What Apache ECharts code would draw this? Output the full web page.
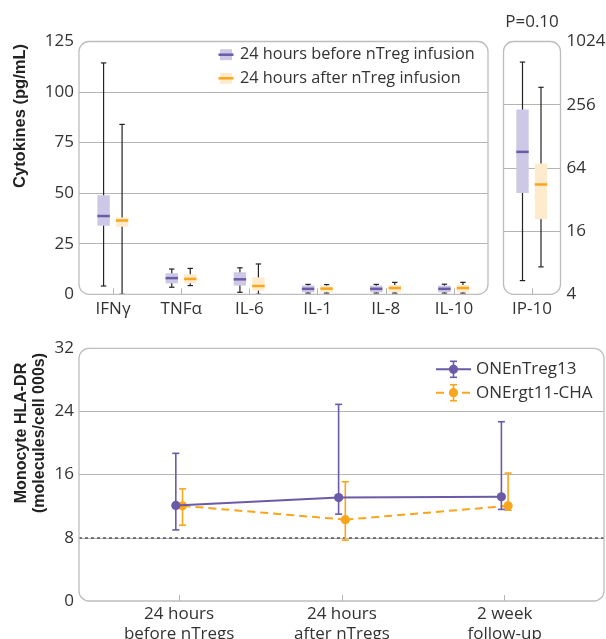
<!DOCTYPE html>
<html>
<head>
<meta charset="utf-8">
<script src="https://cdn.jsdelivr.net/npm/echarts@6/dist/echarts.min.js"></script>
<style>
  html, body { margin: 0; padding: 0; background: #fff; }
  #chart { width: 606px; height: 639px; }
</style>
</head>
<body>
<div id="chart"></div>
<script>
// ---- Cytokine panel data: [low whisker, Q1, median, Q3, high whisker] ----
const cytokines = ['IFNγ', 'TNFα', 'IL-6', 'IL-1', 'IL-8', 'IL-10'];
const before24h = [
  [4.1, 33.9, 38.7, 49.0, 114.4],
  [3.5, 5.4, 8.0, 10.4, 12.5],
  [1.0, 4.3, 7.4, 10.9, 13.1],
  [0.6, 1.0, 2.7, 4.4, 4.9],
  [0.6, 1.0, 2.7, 4.3, 4.9],
  [0.6, 1.0, 2.7, 4.3, 5.0]
];
const after24h = [
  [0.0, 33.4, 36.5, 38.0, 84.0],
  [4.3, 5.4, 7.6, 9.9, 12.8],
  [0.0, 1.8, 4.1, 8.4, 15.0],
  [0.6, 1.0, 2.8, 4.3, 4.8],
  [0.6, 1.0, 3.1, 4.6, 5.9],
  [0.6, 1.0, 3.1, 4.6, 5.9]
];
const ip10Category = ['IP-10'];
const ip10Before = [[5.4, 37, 91, 231, 652]];
const ip10After = [[7.3, 20.8, 44.5, 70.5, 375]];
const ip10PValue = 'P=0.10';

// ---- Monocyte HLA-DR panel data ----
const timepoints = ['24 hours\nbefore nTregs', '24 hours\nafter nTregs', '2 week\nfollow-up'];
const nTreg13Mean = [12.1, 13.1, 13.2];
const nTreg13Low = [9.0, 11.0, 11.6];
const nTreg13High = [18.7, 24.9, 22.7];
const rgt11Mean = [12.05, 10.3, 12.05];
const rgt11Low = [9.6, 7.7, 11.5];
const rgt11High = [14.2, 15.1, 16.2];
const hlaThreshold = 8;

const legendBox = ['24 hours before nTreg infusion', '24 hours after nTreg infusion'];
const legendLine = ['ONEnTreg13', 'ONErgt11-CHA'];

// ---- styling ----
const PURPLE = '#6a5aa8';
const PURPLE_LIGHT = '#cdc8e6';
const ORANGE = '#f9a61c';
const ORANGE_LIGHT = '#feeacd';
const GRID_GRAY = '#b4b4b4';
const FRAME_GRAY = '#bdbdbd';
const TEXT = '#333';
const FONT = '"Open Sans", "Noto Sans", sans-serif';
const TITLE_FONT = '"Liberation Sans", Arial, sans-serif';
const LEGEND_FONT = '16.3px ' + FONT;

// panel rectangles
const P1 = { left: 79, top: 41.5, width: 409, height: 252.8 };
const P2 = { left: 503.5, top: 41.5, width: 57, height: 252.8 };
const P3 = { left: 79, top: 348.3, width: 525, height: 252.7 };

function boxItem(offset, fill, stroke) {
  return function (params, api) {
    const idx = api.value(0);
    const lo = api.coord([idx, api.value(1)]);
    const q1 = api.coord([idx, api.value(2)]);
    const med = api.coord([idx, api.value(3)]);
    const q3 = api.coord([idx, api.value(4)]);
    const hi = api.coord([idx, api.value(5)]);
    const x = lo[0] + offset;
    const hw = 6.2, cap = 2.7;
    const wStyle = { stroke: '#222', lineWidth: 1.2 };
    return {
      type: 'group',
      children: [
        { type: 'line', shape: { x1: x, y1: hi[1], x2: x, y2: lo[1] }, style: wStyle },
        { type: 'line', shape: { x1: x - cap, y1: hi[1], x2: x + cap, y2: hi[1] }, style: wStyle },
        { type: 'line', shape: { x1: x - cap, y1: lo[1], x2: x + cap, y2: lo[1] }, style: wStyle },
        { type: 'rect', shape: { x: x - hw, y: q3[1], width: hw * 2, height: q1[1] - q3[1] }, style: { fill: fill } },
        { type: 'line', shape: { x1: x - hw, y1: med[1], x2: x + hw, y2: med[1] }, style: { stroke: stroke, lineWidth: 2.5 } }
      ]
    };
  };
}

function boxData(rows) {
  return rows.map((r, i) => [i].concat(r));
}

function errorItem(offset, color, means, dashed) {
  return function (params, api) {
    const i = params.dataIndex;
    const xv = api.value(0);
    const m = api.coord([xv, api.value(1)]);
    const lo = api.coord([xv, api.value(2)]);
    const hi = api.coord([xv, api.value(3)]);
    const x = m[0] + offset;
    const cap = 3.5;
    const st = { stroke: color, lineWidth: 1.6 };
    const children = [];
    if (i < means.length - 1) {
      const nxt = api.coord([xv + 1, means[i + 1]]);
      children.push({
        type: 'line',
        shape: { x1: x, y1: m[1], x2: nxt[0] + offset, y2: nxt[1] },
        style: { stroke: color, lineWidth: 2, lineDash: dashed ? [8, 5] : null }
      });
    }
    children.push(
      { type: 'line', shape: { x1: x, y1: hi[1], x2: x, y2: lo[1] }, style: st },
      { type: 'line', shape: { x1: x - cap, y1: hi[1], x2: x + cap, y2: hi[1] }, style: st },
      { type: 'line', shape: { x1: x - cap, y1: lo[1], x2: x + cap, y2: lo[1] }, style: st },
      { type: 'circle', shape: { cx: x, cy: m[1], r: 4.6 }, style: { fill: color } }
    );
    return { type: 'group', children: children };
  };
}

function lineData(means, lows, highs) {
  return means.map((m, i) => [i + 1, m, lows[i], highs[i]]);
}

const axisLabelStyle = { color: TEXT, fontSize: 17, fontFamily: FONT };
const splitStyle = { show: true, lineStyle: { color: GRID_GRAY, width: 1 }, showMinLine: false, showMaxLine: false };

function frame(p) {
  return {
    type: 'rect',
    shape: { x: p.left, y: p.top, width: p.width, height: p.height, r: 10 },
    style: { fill: null, stroke: FRAME_GRAY, lineWidth: 1.3 },
    z: 50
  };
}

function boxLegend(y, fill, stroke, text) {
  return [
    { type: 'rect', shape: { x: 220, y: y - 5.5, width: 12, height: 11 }, style: { fill: fill }, z: 60 },
    { type: 'line', shape: { x1: 218.5, y1: y, x2: 233.5, y2: y }, style: { stroke: stroke, lineWidth: 2.5 }, z: 61 },
    { type: 'text', x: 240, y: y, style: { text: text, fill: TEXT, font: LEGEND_FONT, verticalAlign: 'middle' }, z: 61 }
  ];
}

function lineLegend(y, color, dashed, text) {
  const cx = 453.5;
  const st = { stroke: color, lineWidth: 1.6 };
  return [
    { type: 'line', shape: { x1: 436, y1: y, x2: 471, y2: y }, style: { stroke: color, lineWidth: 2, lineDash: dashed ? [8, 5] : null }, z: 60 },
    { type: 'line', shape: { x1: cx, y1: y - 8, x2: cx, y2: y + 8 }, style: st, z: 60 },
    { type: 'line', shape: { x1: cx - 3.5, y1: y - 8, x2: cx + 3.5, y2: y - 8 }, style: st, z: 60 },
    { type: 'line', shape: { x1: cx - 3.5, y1: y + 8, x2: cx + 3.5, y2: y + 8 }, style: st, z: 60 },
    { type: 'circle', shape: { cx: cx, cy: y, r: 4.6 }, style: { fill: color }, z: 61 },
    { type: 'text', x: 476, y: y, style: { text: text, fill: TEXT, font: '17px ' + FONT, verticalAlign: 'middle' }, z: 61 }
  ];
}

const chart = echarts.init(document.getElementById('chart'), null, { renderer: 'canvas' });

const gridBase = { containLabel: false, outerBoundsMode: 'none' };

chart.setOption({
  animation: false,
  backgroundColor: '#fff',
  grid: [
    Object.assign({}, gridBase, P1),
    Object.assign({}, gridBase, P2),
    Object.assign({}, gridBase, P3)
  ],
  xAxis: [
    {
      gridIndex: 0, type: 'category', data: cytokines, boundaryGap: true,
      axisLine: { show: false },
      axisTick: { show: true, inside: true, alignWithLabel: true, length: 6, lineStyle: { color: GRID_GRAY } },
      axisLabel: Object.assign({ margin: 6 }, axisLabelStyle)
    },
    {
      gridIndex: 1, type: 'category', data: ip10Category, boundaryGap: true,
      axisLine: { show: false },
      axisTick: { show: true, inside: true, alignWithLabel: true, length: 6, lineStyle: { color: GRID_GRAY } },
      axisLabel: Object.assign({ margin: 6 }, axisLabelStyle)
    },
    {
      gridIndex: 2, type: 'value', min: 0.385, max: 3.61,
      axisLine: { show: false },
      splitLine: { show: false },
      axisTick: { show: true, inside: true, length: 6, customValues: [1, 2, 3], lineStyle: { color: GRID_GRAY } },
      axisLabel: Object.assign({
        margin: 3, lineHeight: 20, customValues: [1, 2, 3],
        formatter: v => timepoints[Math.round(v) - 1] || ''
      }, axisLabelStyle)
    }
  ],
  yAxis: [
    {
      gridIndex: 0, type: 'value', min: 0, max: 125, interval: 25,
      axisLine: { show: false }, axisTick: { show: false },
      splitLine: splitStyle,
      axisLabel: Object.assign({ margin: 5 }, axisLabelStyle)
    },
    {
      gridIndex: 1, type: 'log', logBase: 4, min: 4, max: 1024, position: 'right',
      axisLine: { show: false }, axisTick: { show: false },
      splitLine: splitStyle,
      axisLabel: Object.assign({ margin: 6, formatter: v => String(Math.round(v)) }, axisLabelStyle)
    },
    {
      gridIndex: 2, type: 'value', min: 0, max: 32, interval: 8,
      axisLine: { show: false }, axisTick: { show: false },
      splitLine: splitStyle,
      axisLabel: Object.assign({ margin: 5 }, axisLabelStyle)
    }
  ],
  series: [
    {
      type: 'custom', name: legendBox[0], xAxisIndex: 0, yAxisIndex: 0,
      data: boxData(before24h), encode: { x: 0, y: [1, 2, 3, 4, 5] },
      renderItem: boxItem(-9.5, PURPLE_LIGHT, PURPLE), z: 10
    },
    {
      type: 'custom', name: legendBox[1], xAxisIndex: 0, yAxisIndex: 0,
      data: boxData(after24h), encode: { x: 0, y: [1, 2, 3, 4, 5] },
      renderItem: boxItem(9, ORANGE_LIGHT, ORANGE), z: 10
    },
    {
      type: 'custom', xAxisIndex: 1, yAxisIndex: 1,
      data: boxData(ip10Before), encode: { x: 0, y: [1, 2, 3, 4, 5] },
      renderItem: boxItem(-9.5, PURPLE_LIGHT, PURPLE), z: 10
    },
    {
      type: 'custom', xAxisIndex: 1, yAxisIndex: 1,
      data: boxData(ip10After), encode: { x: 0, y: [1, 2, 3, 4, 5] },
      renderItem: boxItem(9, ORANGE_LIGHT, ORANGE), z: 10
    },
    {
      type: 'custom', name: legendLine[1], xAxisIndex: 2, yAxisIndex: 2,
      data: lineData(rgt11Mean, rgt11Low, rgt11High), encode: { x: 0, y: [1, 2, 3] },
      renderItem: errorItem(3.4, ORANGE, rgt11Mean, true), z: 10,
      markLine: {
        silent: true, symbol: 'none', label: { show: false },
        lineStyle: { color: '#555', type: [3, 3], width: 1.5 },
        data: [{ yAxis: hlaThreshold }]
      }
    },
    {
      type: 'custom', name: legendLine[0], xAxisIndex: 2, yAxisIndex: 2,
      data: lineData(nTreg13Mean, nTreg13Low, nTreg13High), encode: { x: 0, y: [1, 2, 3] },
      renderItem: errorItem(-3.3, PURPLE, nTreg13Mean, false), z: 11
    }
  ],
  graphic: [
    frame(P1), frame(P2), frame(P3),
    {
      type: 'text', x: 532, y: 22,
      style: { text: ip10PValue, fill: TEXT, font: '17px ' + FONT, align: 'center', verticalAlign: 'middle' }
    },
    {
      type: 'text', x: 20, y: 116, rotation: Math.PI / 2,
      style: { text: 'Cytokines (pg/mL)', fill: '#222', font: 'bold 16.5px ' + TITLE_FONT, align: 'center', verticalAlign: 'middle' }
    },
    {
      type: 'text', x: 31, y: 433, rotation: Math.PI / 2,
      style: { text: 'Monocyte HLA-DR\n(molecules/cell 000s)', fill: '#222', font: 'bold 16px ' + TITLE_FONT, align: 'center', verticalAlign: 'middle', lineHeight: 18 }
    }
  ]
    .concat(boxLegend(54.7, PURPLE_LIGHT, PURPLE, legendBox[0]))
    .concat(boxLegend(78.3, ORANGE_LIGHT, ORANGE, legendBox[1]))
    .concat(lineLegend(369.3, PURPLE, false, legendLine[0]))
    .concat(lineLegend(392.7, ORANGE, true, legendLine[1]))
});
</script>
</body>
</html>
